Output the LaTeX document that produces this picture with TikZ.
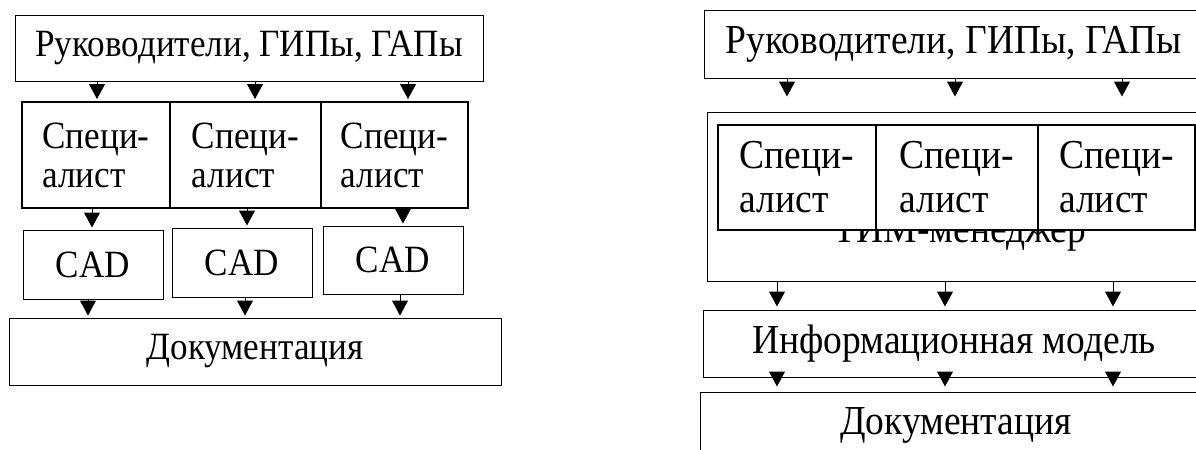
\documentclass[tikz,border=0pt]{standalone}
\usepackage{fontspec}
\setmainfont[FakeStretch=0.91]{Liberation Serif}
\usetikzlibrary{positioning, arrows.meta, calc}

\begin{document}
\begin{tikzpicture}[
    x=0.5pt, y=-0.5pt,
    every node/.style={font=\fontsize{19.3}{19.5}\selectfont},
    bigtext/.style={font=\fontsize{20.6}{22}\selectfont},
    box/.style={draw, line width=0.5pt, inner sep=0pt, align=center},
    cell/.style={draw, line width=1pt, fill=white, inner sep=0pt, minimum height=53pt, align=left},
    cad/.style={box, minimum width=70pt, minimum height=34.5pt},
    wide/.style={box, minimum height=33.5pt},
    arr/.style={-{Triangle[length=7.5pt, width=8pt]}, line width=0.5pt, shorten >=1pt},
]
\path[use as bounding box, clip] (0,0) rectangle (1196,450);

% === Left: classic workflow ===
\node[box, minimum width=234pt, minimum height=33pt] (lead1) at (249,48) {Руководители, ГИПы, ГАПы};

% --- specialists ---
\node[cell, minimum width=74pt] (specA) at (96,155) {Специ-\\алист};
\node[cell, minimum width=75.5pt] (specB) at (245.5,155) {Специ-\\алист};
\node[cell, minimum width=73.5pt] (specC) at (394.5,155) {Специ-\\алист};

% --- CAD tools ---
\node[cad] (cadA) at (93,264.5) {CAD};
\node[cad] (cadB) at (242,262.5) {CAD};
\node[cad, minimum height=34pt] (cadC) at (393,260) {CAD};

\node[wide, minimum width=246pt] (doc1) at (255,351.5) {Документация};

% --- arrows ---
\draw[arr] ([xshift=-76pt]lead1.south) -- ([xshift=0.5pt]specA.north);
\draw[arr] ([xshift=3pt]lead1.south) -- ([xshift=4.75pt]specB.north);
\draw[arr] ([xshift=79.5pt]lead1.south) -- ([xshift=6.75pt]specC.north);
\draw[arr] ([xshift=-2pt]specA.south) -- ([xshift=-0.5pt]cadA.north);
\draw[arr] ([xshift=0.75pt]specB.south) -- ([xshift=2.5pt]cadB.north);
\draw[arr] ([xshift=4.25pt]specC.south) -- ([xshift=5pt]cadC.north);
\draw[arr] ([xshift=-2.5pt]cadA.south) -- ([xshift=-83.5pt]doc1.north);
\draw[arr] ([xshift=1.5pt]cadB.south) -- ([xshift=-5pt]doc1.north);
\draw[arr] ([xshift=3.5pt]cadC.south) -- ([xshift=72.5pt]doc1.north);

% === Right: information model workflow ===
\node[box, bigtext, minimum width=250pt, minimum height=34pt] (lead2) at (954,44) {Руководители, ГИПы, ГАПы};

% TIM manager frame, specialists on top of it
\node[box, minimum width=253pt, minimum height=84.5pt] (bim) at (960,196.5) {};
\node[bigtext, anchor=base] (bimlabel) at (960,242.5) {ТИМ-менеджер};
\node[cell, bigtext, minimum height=52.5pt, minimum width=79pt] (specD) at (797,177.5) {Специ-\\алист};
\node[cell, bigtext, minimum height=52.5pt, minimum width=81pt] (specE) at (957,177.5) {Специ-\\алист};
\node[cell, bigtext, minimum height=52.5pt, minimum width=78.5pt] (specF) at (1116.5,177.5) {Специ-\\алист};

\node[wide, bigtext, minimum width=251pt] (info) at (954,343.5) {Информационная модель};
\node[wide, bigtext, minimum width=256pt] (doc2) at (956,425.5) {Документация};

% --- arrows ---
\draw[arr, shorten >=7.5pt] ([xshift=-83.5pt]lead2.south) -- ([xshift=-86.5pt]bim.north);
\draw[arr, shorten >=7.5pt] ([xshift=0.5pt]lead2.south) -- ([xshift=-2.5pt]bim.north);
\draw[arr, shorten >=7.5pt] ([xshift=84pt]lead2.south) -- ([xshift=81pt]bim.north);
\draw[arr, shorten >=1.5pt] ([xshift=-91.5pt]bim.south) -- ([xshift=-88.5pt]info.north);
\draw[arr, shorten >=1.5pt] ([xshift=-7.5pt]bim.south) -- ([xshift=-4.5pt]info.north);
\draw[arr, shorten >=1.5pt] ([xshift=76.5pt]bim.south) -- ([xshift=79.5pt]info.north);
\draw[arr, shorten >=2.5pt] ([xshift=-88.5pt]info.south) -- ([xshift=-89.5pt]doc2.north);
\draw[arr, shorten >=2.5pt] ([xshift=-4.5pt]info.south) -- ([xshift=-5.5pt]doc2.north);
\draw[arr, shorten >=2.5pt] ([xshift=79.5pt]info.south) -- ([xshift=78.5pt]doc2.north);

\end{tikzpicture}
\end{document}
